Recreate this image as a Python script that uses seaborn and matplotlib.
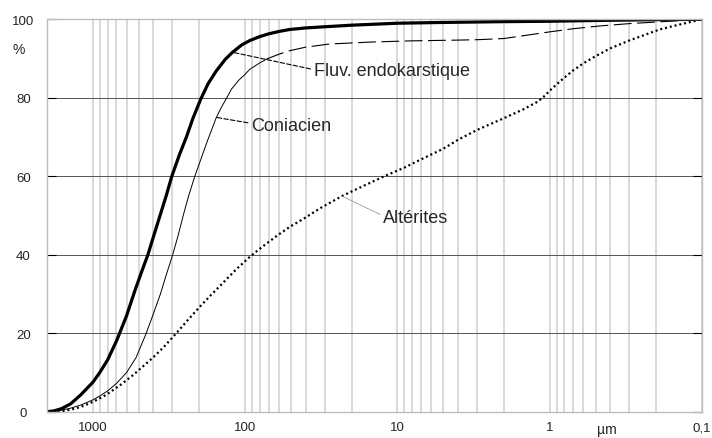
import matplotlib
matplotlib.use("Agg")
import matplotlib.pyplot as plt
import seaborn as sns
from matplotlib.ticker import FixedLocator, NullFormatter

# grain size (um) vs cumulative percentage
fluv_size = [2000, 1800, 1600, 1400, 1200, 1000, 900, 800, 700, 667, 600, 530,
             480, 435, 400, 362, 330, 303, 270, 243, 220, 196, 175, 155, 135,
             121, 105, 93, 80, 70, 60, 51, 40, 30, 20, 10, 5, 2, 1, 0.5, 0.2, 0.1]
fluv_pct = [0, 0.2, 0.8, 2, 4.3, 7.5, 10, 13.2, 18, 20, 24.5, 30.8,
            35.5, 40, 44.6, 50, 55, 60, 65.5, 70, 74.8, 79.6, 83.6, 86.8, 89.8,
            91.6, 93.5, 94.6, 95.6, 96.3, 96.9, 97.4, 97.8, 98.1, 98.5, 99.0,
            99.2, 99.4, 99.5, 99.7, 99.9, 100]

coni_size = [2000, 1800, 1600, 1400, 1200, 1000, 900, 800, 700, 600, 520, 446,
             400, 360, 330, 299, 275, 255, 235, 214, 195, 175, 154.5, 143, 132,
             123, 110, 100, 93, 80, 72, 60, 51, 40, 28, 15, 8.3, 4, 3, 2, 1.5,
             1, 0.7, 0.47, 0.3, 0.2, 0.1]
coni_pct = [0, 0.1, 0.4, 0.9, 1.7, 3, 4, 5.3, 7.2, 10, 13.8, 20,
            25, 30, 34.8, 40, 45, 50, 55, 60, 64.4, 69.5, 75, 77.6, 80,
            82.2, 84.5, 86, 87.3, 88.9, 89.9, 91.1, 92, 92.9, 93.7, 94.2, 94.5,
            94.7, 94.8, 95.1, 95.8, 96.8, 97.6, 98.3, 98.9, 99.3, 100]
coni_break = 30  # drawn solid up to 72 um, dashed beyond

alt_size = [1700, 1500, 1300, 1150, 1000, 850, 750, 650, 550, 470, 400, 340,
            283, 240, 200, 170, 140, 115, 93, 75, 60, 50, 42, 32, 23, 17,
            12.2, 9, 7, 5, 4, 3, 2, 1.5, 1.2, 1.1, 1, 0.85, 0.7, 0.6, 0.5,
            0.4, 0.3, 0.19, 0.15, 0.1]
alt_pct = [0, 0.3, 0.8, 1.5, 2.5, 3.9, 5.3, 7, 9.2, 11.5, 13.9, 16.6,
           20, 23.2, 26.6, 29.5, 32.8, 36.2, 39.5, 42.4, 45.2, 47.3, 49, 51.9,
           55, 57.4, 60, 62.2, 64.3, 67, 69.3, 71.8, 74.8, 77, 79, 80.2, 81.8,
           84.3, 87, 88.8, 90.6, 92.6, 94.6, 97.4, 98.4, 100]

x_ticks = [1000, 100, 10, 1, 0.1]
x_tick_labels = ["1000", "100", "10", "1", "0,1"]
y_ticks = [0, 20, 40, 60, 80, 100]

sns.set_theme(style="white")
plt.rcParams["font.family"] = ["Liberation Sans", "DejaVu Sans"]

fig = plt.figure(figsize=(7.12, 4.39), dpi=100)
ax = fig.add_axes([47 / 712, (439 - 412.7) / 439, 655 / 712, 392.4 / 439])
ax.set_xscale("log")

sns.lineplot(x=fluv_size, y=fluv_pct, ax=ax, color="black", linewidth=2.3,
             estimator=None, sort=False)
sns.lineplot(x=coni_size[:coni_break + 1], y=coni_pct[:coni_break + 1], ax=ax,
             color="black", linewidth=0.7, estimator=None, sort=False)
sns.lineplot(x=coni_size[coni_break:], y=coni_pct[coni_break:], ax=ax,
             color="black", linewidth=0.8, linestyle=(0, (16, 5)),
             estimator=None, sort=False)
sns.lineplot(x=alt_size, y=alt_pct, ax=ax, color="black", linewidth=1.6,
             linestyle=(0, (0.9, 1.3)), estimator=None, sort=False)

ax.set_xlim(2000, 0.1)
ax.set_ylim(0, 100)
ax.xaxis.set_major_locator(FixedLocator(x_ticks))
ax.xaxis.set_minor_locator(FixedLocator(
    [m * 10.0 ** e for e in range(-1, 3) for m in range(2, 10)] + [2000]))
ax.xaxis.set_minor_formatter(NullFormatter())
ax.set_xticklabels(x_tick_labels)
ax.set_yticks(y_ticks)
ax.set_yticklabels([str(v) for v in y_ticks])

ax.set_axisbelow(True)
ax.grid(axis="x", which="both", color="#cfcfcf", linewidth=1.1)
ax.grid(axis="y", which="major", color="#555555", linewidth=0.7)
for gl in (ax.yaxis.get_gridlines()[0], ax.yaxis.get_gridlines()[-1]):
    gl.set_visible(False)
for sp in ax.spines.values():
    sp.set_color("#bdbdbd")
    sp.set_linewidth(1.0)

ax.tick_params(axis="x", which="both", length=0, pad=7, labelsize=9.5)
ax.tick_params(axis="y", which="major", direction="in", length=6.5, width=0.8,
               color="black", left=True, right=True, pad=17, labelsize=9.5)
for lbl in ax.get_yticklabels():
    lbl.set_horizontalalignment("center")

ax.set_xlabel("")
ax.set_ylabel("")

# curve labels with leader lines
ax.annotate("Fluv. endokarstique", xy=(121, 91.6), xytext=(35.4, 85.8),
            fontsize=13, va="baseline", ha="left",
            arrowprops=dict(arrowstyle="-", color="black", linewidth=0.8,
                            linestyle=(0, (4, 2)), shrinkA=0, shrinkB=0,
                            relpos=(0, 0.55)))
ax.annotate("Coniacien", xy=(154.5, 75.0), xytext=(91.2, 71.9),
            fontsize=13, va="baseline", ha="left",
            arrowprops=dict(arrowstyle="-", color="black", linewidth=0.8,
                            linestyle=(0, (4, 2)), shrinkA=0, shrinkB=0,
                            relpos=(0, 0.6)))
ax.annotate("Altérites", xy=(23.3, 55.0), xytext=(12.4, 48.3),
            fontsize=13, va="baseline", ha="left",
            arrowprops=dict(arrowstyle="-", color="#888888", linewidth=0.6,
                            linestyle=(0, (1, 1)), shrinkA=0, shrinkB=0,
                            relpos=(0, 0.6)))

fig.text(18.5 / 712, 1 - 50 / 439, "%", fontsize=10, ha="center", va="center")
fig.text(607 / 712, 1 - 430 / 439, "µm", fontsize=10, ha="center", va="center")

fig.savefig("out.png", dpi=100)
